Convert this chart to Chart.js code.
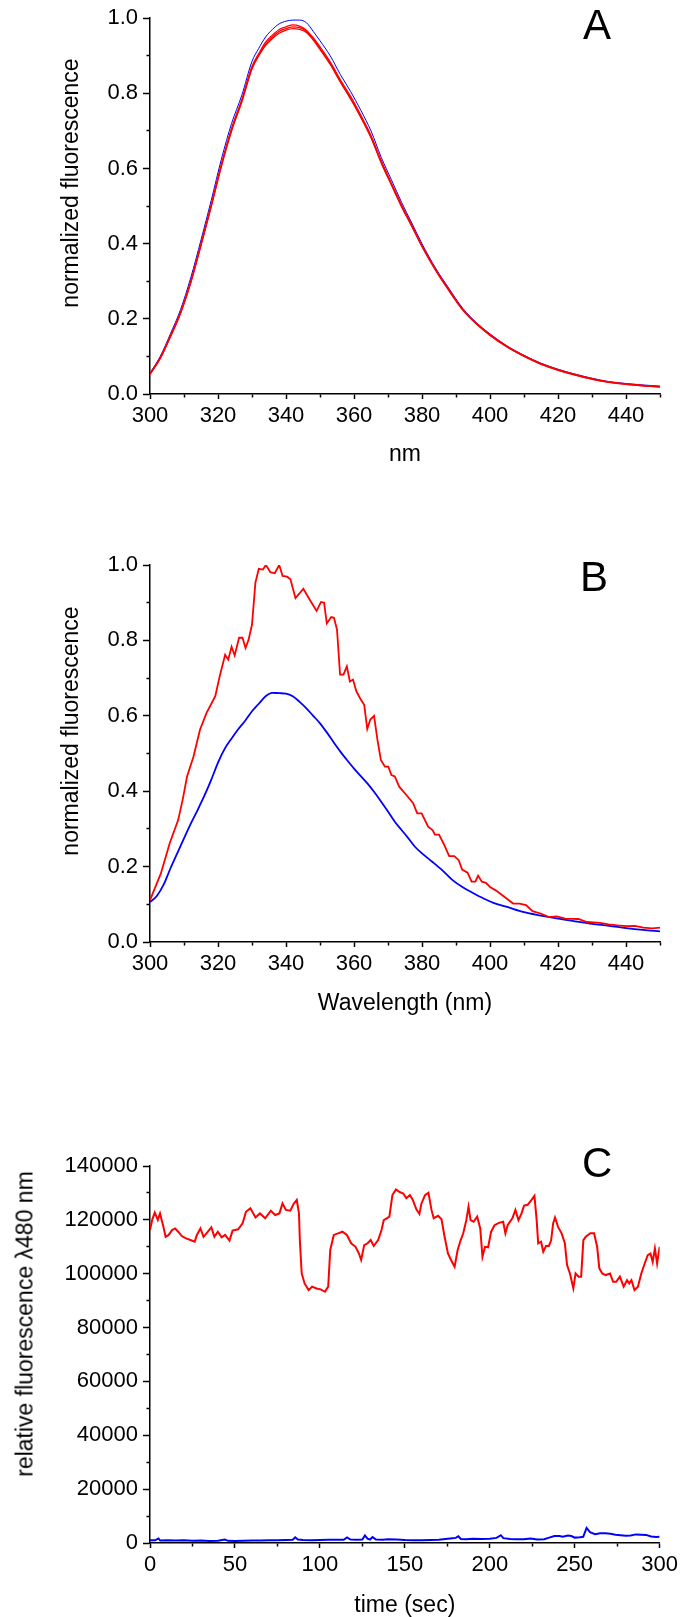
<!DOCTYPE html>
<html>
<head>
<meta charset="utf-8">
<script src="https://cdn.jsdelivr.net/npm/chart.js@4.4.1/dist/chart.umd.min.js"></script>
<style>
  html, body { margin: 0; padding: 0; background: #fff; overflow: hidden; }
  body { width: 682px; height: 1617px; position: relative; font-family: 'Liberation Sans', Arial, sans-serif; color: #000; }
  canvas { position: absolute; left: 0; }
  .panel-letter { position: absolute; font-size: 42px; line-height: 42px; }
  .ytitle { position: absolute; font-size: 23px; line-height: normal; white-space: nowrap; transform: translate(-50%, -50%) rotate(-90deg); }
</style>
</head>
<body>
<canvas id="chart-a" width="682" height="480" style="top:0px"></canvas>
<canvas id="chart-b" width="682" height="600" style="top:480px"></canvas>
<canvas id="chart-c" width="682" height="560" style="top:1080px"></canvas>

<div class="panel-letter" style="left:583px; top:4px">A</div>
<div class="panel-letter" style="left:580px; top:556px">B</div>
<div class="panel-letter" style="left:582px; top:1142px">C</div>

<div class="ytitle" style="left:70px; top:183px">normalized fluorescence</div>
<div class="ytitle" style="left:70px; top:731px">normalized fluorescence</div>
<div class="ytitle" style="left:25px; top:1324px">relative fluorescence λ480 nm</div>

<script>
// Panel A: emission spectra (nm)
const aNm = [300,303,306,309,312,315,318,321,324,327,330,332,334,336,338,340,342,344,346,348,350,353,356,359,362,365,368,371,374,377,380,384,388,392,396,400,405,410,415,420,425,430,435,440,445,450];
const aBlue = [.056,.1,.16,.225,.31,.41,.515,.625,.72,.795,.885,.92,.95,.97,.985,.992,.995,.995,.988,.965,.94,.9,.85,.805,.755,.7,.63,.57,.51,.455,.4,.335,.28,.228,.19,.16,.128,.103,.082,.066,.053,.042,.033,.028,.024,.021];
const aRed1 = [.052,.094,.152,.215,.298,.397,.5,.608,.703,.78,.868,.902,.93,.95,.965,.972,.977,.975,.965,.945,.92,.88,.832,.787,.738,.684,.617,.558,.5,.447,.393,.33,.275,.224,.187,.157,.126,.101,.08,.064,.051,.04,.031,.026,.022,.019];
const aRed2 = [.054,.097,.155,.218,.3,.4,.504,.612,.707,.784,.872,.906,.936,.955,.97,.977,.982,.979,.968,.948,.924,.884,.836,.792,.742,.688,.621,.561,.503,.45,.395,.332,.277,.225,.188,.158,.127,.102,.081,.065,.052,.041,.032,.027,.023,.02];
const aRed3 = [.053,.095,.153,.216,.296,.395,.498,.606,.7,.777,.865,.9,.928,.946,.96,.968,.972,.97,.962,.942,.917,.877,.83,.785,.736,.682,.615,.556,.498,.446,.392,.329,.274,.223,.186,.156,.125,.1,.079,.063,.05,.039,.031,.026,.022,.019];

// Panel B: wavelength spectra
const bBlueNm = [300,302,304,306,308,310,312,314,316,318,320,322,324,326,328,330,332,334,336,338,340,342,344,346,348,350,352,354,356,358,360,362,364,366,368,370,372,374,376,378,380,383,386,389,392,395,398,401,405,410,415,420,425,430,435,440,445,450];
const bBlue = [.106,.122,.152,.195,.235,.275,.314,.35,.388,.43,.476,.513,.54,.565,.587,.612,.632,.652,.661,.66,.659,.652,.637,.62,.6,.58,.556,.53,.505,.482,.46,.44,.42,.397,.372,.346,.319,.297,.275,.252,.235,.213,.19,.164,.145,.13,.116,.104,.093,.079,.07,.062,.055,.048,.043,.037,.032,.028];
const bRedNm = [300,303.2,305.8,308.3,309.6,310.9,312.8,314.7,316.6,319.2,320.5,322.1,323,324,324.9,326.2,327.2,328.1,329,330,331,332,333.2,334.1,335.4,336.7,338,339,340.3,341.3,342.8,345.1,346.9,349,350.3,351.2,352,353.3,354.1,355,355.9,356.9,357.9,358.8,359.7,360.7,362,363,363.9,364.8,365.9,366.9,367.9,369.1,370.1,371,372,373.3,375.4,377.4,378.6,379.9,381.8,383.1,383.8,385,386.3,388,389.5,390.8,391.8,393.4,394.6,395.7,396.5,397.6,398.8,400.1,401.7,404.2,406.8,408.7,410.6,412.5,415.1,417.3,419.6,422.1,426,428.5,432.4,434.9,437.5,440.1,442.6,445.1,447.7,450];
const bRed = [.111,.182,.262,.324,.377,.439,.492,.563,.607,.652,.705,.762,.749,.783,.76,.807,.807,.78,.802,.842,.953,.99,.988,1.0,.981,.978,1.0,.971,.969,.962,.912,.937,.909,.878,.902,.9,.845,.862,.86,.829,.709,.709,.731,.691,.696,.665,.643,.629,.565,.59,.6,.536,.483,.465,.465,.443,.439,.412,.39,.368,.341,.341,.306,.297,.285,.285,.262,.228,.228,.217,.192,.184,.16,.16,.176,.16,.157,.145,.137,.12,.102,.102,.098,.082,.075,.066,.068,.062,.061,.053,.051,.047,.044,.042,.043,.038,.036,.038];

// Panel C: time course
const cRedT = [0,1.3,2.8,4.6,5.9,7.9,9.2,11,13,14.8,16.6,18.7,21.2,23.8,26.3,27.6,29.7,31.5,33.5,36.1,37.9,39.9,42.2,44.2,46.8,48.6,51.9,54.5,56.5,59.1,62.1,64.7,67.8,71.1,73.7,76.2,78,80,82.6,84.7,86.4,87.7,88.2,89.3,91,93.4,95.4,98,100.5,103,104.9,106.1,108.2,110.7,113.3,115.9,118.4,121,123,124.3,126.1,128.1,129.9,131.7,134.3,136.3,137.6,138.9,140.9,142.7,144.8,146.5,149.1,150.9,153,154.7,156.8,158.6,159.8,161.9,163.9,165.7,167,169.6,171.6,173.4,175.4,177.2,179.3,181.1,182.9,184.4,186.2,187.5,188.7,190.5,192.6,194.4,195.7,197.2,199,200.8,202.8,205.4,207.9,209.2,210.5,213.3,215.1,216.9,218.7,220.2,222.3,224.6,226.3,227.6,228.5,230.2,231.5,233.1,234.8,236.1,237.3,238.4,240.2,242.3,244.2,245.5,247.2,249.2,250.5,252.3,253.8,255.1,256.5,259.2,261.4,263.2,264.5,266.2,268.2,270.8,272.6,274.4,276.6,278.8,280.8,282.1,283.4,285.2,287.2,289.2,291.2,293,294.6,295.9,297.2,298.5,300];
const cRed = [116200,120000,122700,120000,122400,117400,113700,114400,116200,116800,115600,114000,113100,112500,111900,114400,116800,113700,115200,117200,113700,115600,113500,114400,112300,116000,116500,118700,123000,124300,120900,122400,120600,123400,121800,122400,126100,123700,123400,126100,127400,122400,112500,100100,96400,93900,95200,94500,94200,93300,95200,108800,114400,115000,115600,114400,111300,110000,107500,105100,110600,111300,112500,110300,112500,116200,119900,120400,121200,129200,131300,130500,129800,128000,129200,127400,123900,122200,126100,129200,130100,123700,120600,121500,120200,113700,107500,105100,102600,108800,112500,115000,119900,124900,119900,119300,121200,116800,106300,110000,109800,115600,118000,118900,119300,115000,118000,120600,123700,119900,122400,125300,125600,127400,128900,119900,111300,111900,108200,110300,110300,112300,118700,120900,117400,115000,111300,103200,100100,94600,100100,98900,98900,112500,113700,115000,115000,110000,102000,100100,99500,100100,97000,97000,98900,95200,97600,96400,97600,93900,95200,100100,103800,106900,107500,104400,109400,103800,110000];
const cBlueT = [0,3,5,6,10,15,20,25,30,35,40,44,46,50,55,60,65,70,75,80,84,85.5,87,90,95,100,105,110,114,116,118,122,125,126.5,128,129.5,131,133,137,140,145,150,155,160,165,170,174,178,180,181.5,183,186,190,195,200,204,206.5,208,212,216,220,224,228,232,235,238,241,243,246,248,250,253,255,257,259,262,265,268,271,274,277,280,283,286,289,292,295,298,300];
const cBlue = [1000,1000,1700,900,1000,900,1000,800,900,700,800,1300,800,700,800,900,900,1000,1000,1100,1200,2100,1300,1100,1000,1100,1200,1200,1200,2100,1300,1200,1300,2800,1600,1300,2200,1300,1200,1400,1300,1100,1000,1000,1100,1200,1500,1800,1900,2500,1500,1400,1600,1500,1600,1900,2900,1800,1500,1400,1400,1700,1300,1400,2000,2600,2600,2300,2800,2600,2000,2100,2300,5600,4000,3300,3600,3600,3400,3100,2900,2700,2800,3200,3100,3000,2400,2200,2300];

const FONT = "'Liberation Sans', Arial, sans-serif";
const RED = '#ff0000';
const BLUE = '#0000ff';

function points(xs, ys) {
    return xs.map((x, i) => ({ x: x, y: ys[i] }));
}

function line(xs, ys, color, width, smooth) {
    return {
        data: points(xs, ys),
        borderColor: color,
        backgroundColor: color,
        borderWidth: width,
        pointRadius: 0,
        tension: 0,
        cubicInterpolationMode: smooth ? 'monotone' : 'default',
        fill: false
    };
}

// every n-th minor tick is a labelled major tick
function isMajor(value, step, every) {
    return Math.round(value / step) % every === 0;
}

function buildScales(cfg) {
    return {
        x: {
            type: 'linear',
            min: cfg.xMin,
            max: cfg.xMax,
            afterFit: s => { s.height = cfg.xHeight; },
            border: { color: '#000', width: 1.5 },
            grid: {
                drawOnChartArea: false,
                color: '#000',
                tickColor: '#000',
                tickWidth: 1.5,
                tickLength: 5,
                tickBorderDash: ctx => (ctx.tick && !isMajor(ctx.tick.value, cfg.xStep, cfg.xEvery)) ? [3, 20] : []
            },
            ticks: {
                stepSize: cfg.xStep,
                autoSkip: false,
                maxRotation: 0,
                padding: 4,
                color: '#000',
                font: { family: FONT, size: 22 },
                callback: v => isMajor(v, cfg.xStep, cfg.xEvery) ? String(v) : ''
            },
            title: {
                display: true,
                text: cfg.xTitle,
                color: '#000',
                font: { family: FONT, size: 23 },
                padding: { top: 0, bottom: cfg.xTitlePad }
            }
        },
        y: {
            type: 'linear',
            min: cfg.yMin,
            max: cfg.yMax,
            afterFit: s => { s.width = 150; },
            border: { color: '#000', width: 1.5 },
            grid: {
                drawOnChartArea: false,
                color: '#000',
                tickColor: '#000',
                tickWidth: 1.5,
                tickLength: 7,
                tickBorderDash: ctx => (ctx.tick && !isMajor(ctx.tick.value, cfg.yStep, cfg.yEvery)) ? [0, 3.5, 3.5, 20] : []
            },
            ticks: {
                stepSize: cfg.yStep,
                autoSkip: false,
                padding: 5,
                color: '#000',
                font: { family: FONT, size: 22 },
                callback: v => isMajor(v, cfg.yStep, cfg.yEvery) ? cfg.yFormat(v) : ''
            }
        }
    };
}

function makeChart(id, datasets, cfg) {
    return new Chart(document.getElementById(id), {
        type: 'line',
        data: { datasets: datasets },
        options: {
            responsive: false,
            animation: false,
            layout: { padding: { top: cfg.padTop, right: 22, left: 0, bottom: 0 } },
            plugins: { legend: { display: false }, tooltip: { enabled: false } },
            scales: buildScales(cfg)
        }
    });
}

const spectrumAxes = {
    xMin: 300, xMax: 450, xStep: 10, xEvery: 2,
    yMin: 0, yMax: 1, yStep: 0.1, yEvery: 2,
    yFormat: v => v.toFixed(1)
};

// red traces first so they sit on top of the blue one
makeChart('chart-a', [
    line(aNm, aRed1, RED, 1.3, true),
    line(aNm, aRed2, RED, 1.3, true),
    line(aNm, aRed3, RED, 1.3, true),
    line(aNm, aBlue, BLUE, 1, true)
], Object.assign({}, spectrumAxes, { padTop: 16, xHeight: 86, xTitle: 'nm', xTitlePad: 12 }));

makeChart('chart-b', [
    line(bRedNm, bRed, RED, 1.8, false),
    line(bBlueNm, bBlue, BLUE, 1.8, true)
], Object.assign({}, spectrumAxes, { padTop: 85, xHeight: 138, xTitle: 'Wavelength (nm)', xTitlePad: 63 }));

makeChart('chart-c', [
    line(cRedT, cRed, RED, 2, false),
    line(cBlueT, cBlue, BLUE, 2, false)
], {
    padTop: 86, xHeight: 97, xTitle: 'time (sec)', xTitlePad: 21,
    xMin: 0, xMax: 300, xStep: 25, xEvery: 2,
    yMin: 0, yMax: 140000, yStep: 10000, yEvery: 2,
    yFormat: v => String(v)
});
</script>
</body>
</html>
